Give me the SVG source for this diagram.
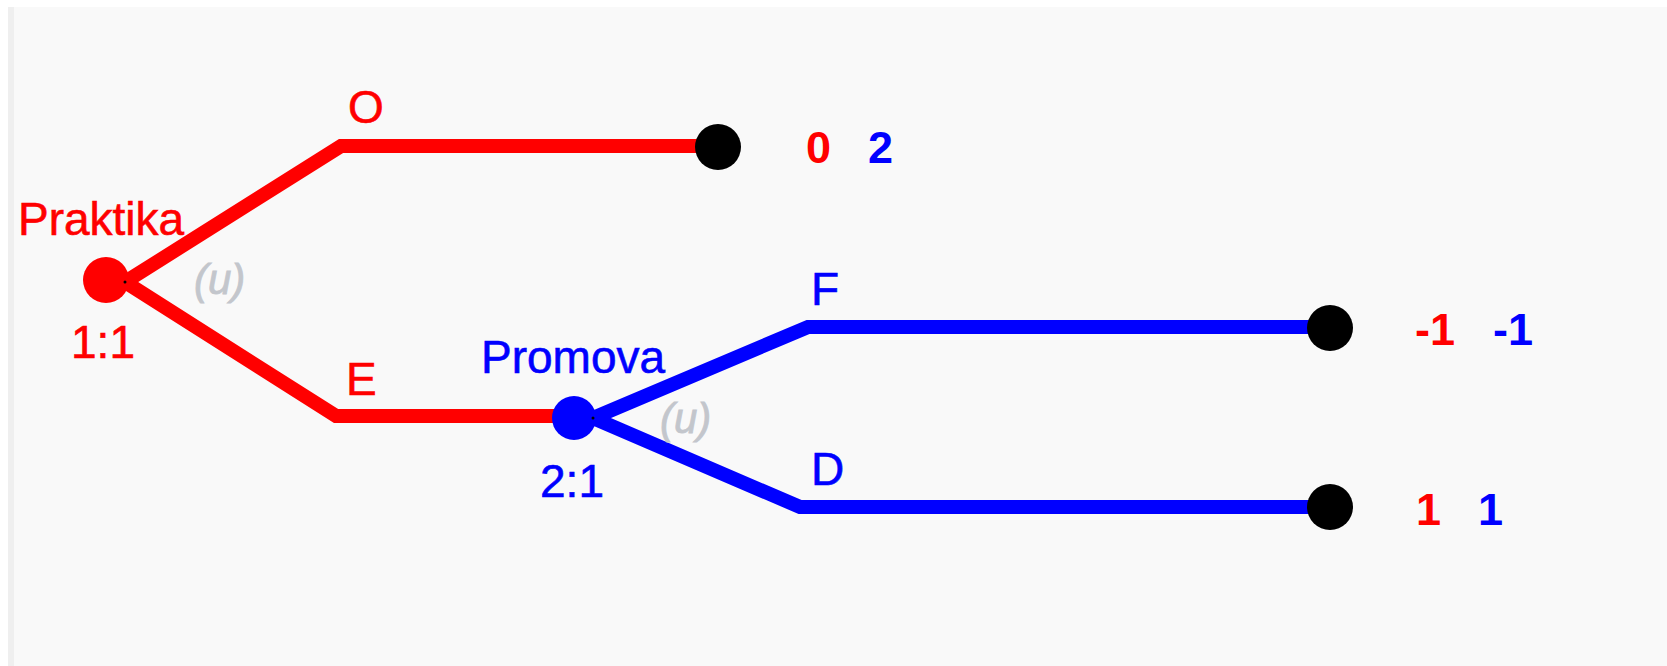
<svg xmlns="http://www.w3.org/2000/svg" width="1667" height="666" viewBox="0 0 1667 666">
  <style>
    .lbl { font-family: "Liberation Sans", Arial, sans-serif; font-size: 46px; stroke-width: 0.6; }
    .p1 { fill: #ff0000; }
    .p2 { fill: #0000ff; }
    .lbl.p1 { stroke: #ff0000; }
    .lbl.p2 { stroke: #0000ff; }
    .chance { font-family: "Liberation Sans", Arial, sans-serif; font-size: 42px; font-style: italic; fill: #c3c6cc; stroke: #c3c6cc; stroke-width: 0.8; }
    .pay { font-family: "Liberation Sans", Arial, sans-serif; font-size: 45px; font-weight: bold; }
    .edge { fill: none; stroke-width: 14; stroke-linejoin: miter; stroke-linecap: butt; }
    .e1 { stroke: #ff0000; }
    .e2 { stroke: #0000ff; }
    .leaf { fill: #000000; }
    .pivot { fill: #000000; }
  </style>

  <!-- canvas -->
  <rect x="0" y="0" width="1667" height="666" fill="#ffffff"/>
  <rect x="8" y="7" width="1659" height="659" fill="#f9f9f9"/>
  <rect x="8" y="7" width="6" height="659" fill="#efefef"/>

  <!-- connectors -->
  <g id="edges">
    <polyline class="edge e1" points="125,282 341,146 718,146"/>
    <polyline class="edge e1" points="125,282 336,416 574,416"/>
    <polyline class="edge e2" points="593,418 808,327 1330,327"/>
    <polyline class="edge e2" points="593,418 800,507 1330,507"/>
  </g>

  <!-- edge labels -->
  <g id="edge-labels">
    <text class="lbl p1" x="348" y="123">O</text>
    <text class="lbl p1" x="346" y="395">E</text>
    <text class="lbl p2" x="811" y="305">F</text>
    <text class="lbl p2" x="811" y="485">D</text>
  </g>

  <!-- decision node of player 1 -->
  <g id="node-praktika">
    <circle class="p1" cx="106" cy="280" r="23"/>
    <circle class="pivot" cx="125" cy="282" r="1.5"/>
    <text class="lbl p1" x="18" y="235">Praktika</text>
    <text class="lbl p1" x="103" y="358" text-anchor="middle">1:1</text>
    <text class="chance" x="194" y="294">(u)</text>
  </g>

  <!-- decision node of player 2 -->
  <g id="node-promova">
    <circle class="p2" cx="574" cy="418" r="22"/>
    <circle class="pivot" cx="593" cy="418" r="1.5"/>
    <text class="lbl p2" x="481" y="373">Promova</text>
    <text class="lbl p2" x="572" y="497" text-anchor="middle">2:1</text>
    <text class="chance" x="660" y="433">(u)</text>
  </g>

  <!-- terminal nodes with payoffs -->
  <g id="leaf-o">
    <circle class="leaf" cx="718" cy="147" r="23"/>
    <text class="pay p1" x="806" y="163">0</text>
    <text class="pay p2" x="868" y="163">2</text>
  </g>

  <g id="leaf-f">
    <circle class="leaf" cx="1330" cy="328" r="23"/>
    <text class="pay p1" x="1415" y="345">-1</text>
    <text class="pay p2" x="1493" y="345">-1</text>
  </g>

  <g id="leaf-d">
    <circle class="leaf" cx="1330" cy="507" r="23"/>
    <text class="pay p1" x="1416" y="525">1</text>
    <text class="pay p2" x="1478" y="525">1</text>
  </g>
</svg>
